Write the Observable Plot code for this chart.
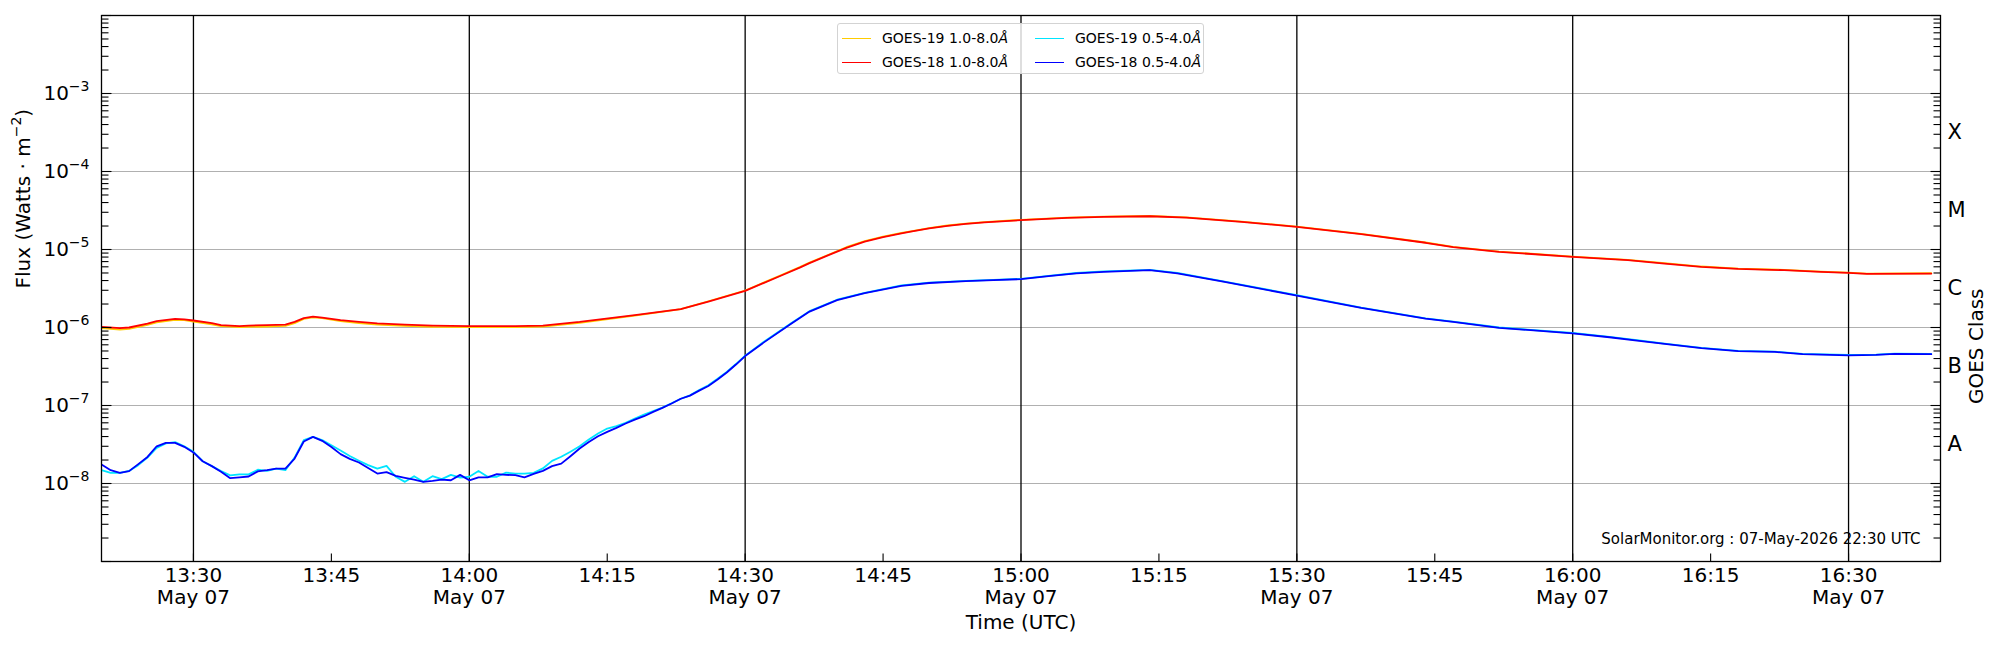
<!DOCTYPE html>
<html>
<head>
<meta charset="utf-8">
<script src="https://cdn.jsdelivr.net/npm/d3@7"></script>
<script src="https://cdn.jsdelivr.net/npm/@observablehq/plot@0.6"></script>
<style>
  html, body { margin: 0; padding: 0; background: white; }
  #wrap { position: relative; width: 2000px; height: 650px; font-family: "DejaVu Sans", sans-serif; }
  #legend { position: absolute; left: 837px; top: 23px; width: 367px; height: 51px; box-sizing: border-box;
            border: 1px solid #d3d3d3; border-radius: 3px; background: rgba(255,255,255,0.8);
            font-family: "DejaVu Sans", sans-serif; font-size: 14px; color: black; }
  .entry { position: absolute; height: 20px; display: flex; align-items: center; white-space: nowrap; }
  .swatch { width: 29px; height: 0; border-top: 1.5px solid; margin-right: 11px; }
</style>
</head>
<body>
<div id="wrap"></div>
<script>
// ---- Data ----
const startUTC = Date.UTC(2026, 4, 7, 13, 20);   // 07-May-2026 13:20 UTC
const endUTC   = Date.UTC(2026, 4, 7, 16, 40);

// 1.0-8.0 Å channel: minutes after 13:20
const longMinutes = [0, 2, 3, 5, 6, 8, 9, 10, 12, 13, 15, 16, 18, 20, 21, 22, 23, 24, 26, 28, 30, 33, 36, 40, 45,
  48, 52, 58, 63, 66, 70, 74, 76, 77, 79, 81, 83, 85, 87, 88, 90, 92, 94, 96, 100, 105, 109, 114, 118, 124, 130,
  137, 144, 147, 152, 160, 166, 170, 174, 178, 183, 187, 190, 192, 199];
const goes18Long = [1.02e-6, 0.98e-6, 1.00e-6, 1.125e-6, 1.21e-6, 1.29e-6, 1.27e-6, 1.23e-6, 1.14e-6, 1.07e-6,
  1.04e-6, 1.06e-6, 1.07e-6, 1.09e-6, 1.18e-6, 1.32e-6, 1.38e-6, 1.34e-6, 1.24e-6, 1.18e-6, 1.13e-6, 1.09e-6,
  1.06e-6, 1.04e-6, 1.04e-6, 1.06e-6, 1.18e-6, 1.44e-6, 1.72e-6, 2.15e-6, 2.95e-6, 4.68e-6, 5.9e-6, 6.7e-6,
  8.4e-6, 1.05e-5, 1.26e-5, 1.44e-5, 1.61e-5, 1.69e-5, 1.86e-5, 2.01e-5, 2.13e-5, 2.23e-5, 2.38e-5, 2.55e-5,
  2.62e-5, 2.67e-5, 2.56e-5, 2.26e-5, 1.95e-5, 1.57e-5, 1.22e-5, 1.07e-5, 9.34e-6, 8.05e-6, 7.3e-6, 6.61e-6,
  6.0e-6, 5.65e-6, 5.43e-6, 5.17e-6, 5.02e-6, 4.87e-6, 4.92e-6];
const goes19Long = [0.98e-6, 0.94e-6, 0.96e-6, 1.08e-6, 1.16e-6, 1.25e-6, 1.24e-6, 1.19e-6, 1.10e-6, 1.04e-6,
  1.01e-6, 1.02e-6, 1.03e-6, 1.05e-6, 1.14e-6, 1.29e-6, 1.35e-6, 1.32e-6, 1.21e-6, 1.14e-6, 1.09e-6, 1.05e-6,
  1.02e-6, 1.01e-6, 1.01e-6, 1.03e-6, 1.15e-6, 1.42e-6, 1.72e-6, 2.17e-6, 2.98e-6, 4.75e-6, 6.0e-6, 6.8e-6,
  8.5e-6, 1.07e-5, 1.28e-5, 1.46e-5, 1.63e-5, 1.71e-5, 1.88e-5, 2.03e-5, 2.15e-5, 2.25e-5, 2.40e-5, 2.57e-5,
  2.64e-5, 2.69e-5, 2.58e-5, 2.28e-5, 1.97e-5, 1.59e-5, 1.23e-5, 1.08e-5, 9.42e-6, 8.12e-6, 7.36e-6, 6.67e-6,
  6.05e-6, 5.70e-6, 5.48e-6, 5.21e-6, 5.06e-6, 4.91e-6, 4.96e-6];

// 0.5-4.0 Å channel: minutes after 13:20
const shortMinutes = [0, 1, 2, 3, 4, 5, 6, 7, 8, 9, 10, 11, 12, 13, 14, 15, 16, 17, 18, 19, 20, 21, 22, 23, 24,
  25, 26, 27, 28, 29, 30, 31, 32, 33, 34, 35, 36, 37, 38, 39, 40, 41, 42, 43, 44, 45, 46, 47, 48, 49, 50, 51,
  52, 53, 54, 55, 56, 57, 58, 59, 60, 61, 62, 63, 64, 65, 66, 67, 68, 69, 70, 72, 75, 77, 80, 83, 87, 90, 94, 97,
  100, 103, 106, 109, 114, 117, 122, 130, 137, 144, 147, 152, 160, 164, 167, 170, 174, 178, 182, 185, 190, 193,
  195, 199];
const goes18Short = [1.75e-8, 1.48e-8, 1.37e-8, 1.44e-8, 1.77e-8, 2.19e-8, 3.0e-8, 3.32e-8, 3.32e-8, 2.95e-8,
  2.5e-8, 1.93e-8, 1.67e-8, 1.41e-8, 1.17e-8, 1.2e-8, 1.23e-8, 1.43e-8, 1.48e-8, 1.55e-8, 1.55e-8, 2.09e-8,
  3.46e-8, 3.96e-8, 3.52e-8, 2.94e-8, 2.38e-8, 2.07e-8, 1.86e-8, 1.58e-8, 1.34e-8, 1.40e-8, 1.25e-8, 1.18e-8,
  1.12e-8, 1.05e-8, 1.08e-8, 1.12e-8, 1.10e-8, 1.29e-8, 1.10e-8, 1.2e-8, 1.2e-8, 1.32e-8, 1.29e-8, 1.28e-8,
  1.2e-8, 1.33e-8, 1.45e-8, 1.67e-8, 1.80e-8, 2.24e-8, 2.81e-8, 3.41e-8, 4.03e-8, 4.59e-8, 5.16e-8, 5.87e-8,
  6.6e-8, 7.29e-8, 8.29e-8, 9.33e-8, 1.06e-7, 1.22e-7, 1.34e-7, 1.55e-7, 1.78e-7, 2.15e-7, 2.65e-7, 3.35e-7,
  4.3e-7, 6.4e-7, 1.12e-6, 1.6e-6, 2.24e-6, 2.75e-6, 3.42e-6, 3.72e-6, 3.93e-6, 4.04e-6, 4.17e-6, 4.55e-6,
  4.95e-6, 5.18e-6, 5.43e-6, 4.95e-6, 3.87e-6, 2.57e-6, 1.78e-6, 1.30e-6, 1.18e-6, 9.9e-7, 8.4e-7, 7.5e-7,
  6.8e-7, 6.15e-7, 5.43e-7, 4.98e-7, 4.86e-7, 4.55e-7, 4.38e-7, 4.45e-7, 4.59e-7, 4.55e-7];
const goes19Short = [1.48e-8, 1.37e-8, 1.37e-8, 1.45e-8, 1.72e-8, 2.15e-8, 2.86e-8, 3.27e-8, 3.4e-8, 3.0e-8,
  2.55e-8, 1.93e-8, 1.67e-8, 1.44e-8, 1.27e-8, 1.31e-8, 1.31e-8, 1.5e-8, 1.45e-8, 1.55e-8, 1.48e-8, 2.15e-8,
  3.6e-8, 3.96e-8, 3.6e-8, 3.1e-8, 2.65e-8, 2.25e-8, 1.96e-8, 1.72e-8, 1.55e-8, 1.68e-8, 1.22e-8, 1.05e-8,
  1.24e-8, 1.05e-8, 1.24e-8, 1.14e-8, 1.29e-8, 1.19e-8, 1.22e-8, 1.45e-8, 1.22e-8, 1.22e-8, 1.38e-8, 1.34e-8,
  1.34e-8, 1.37e-8, 1.56e-8, 1.95e-8, 2.2e-8, 2.55e-8, 3.0e-8, 3.66e-8, 4.37e-8, 5.07e-8, 5.43e-8, 6.0e-8,
  6.8e-8, 7.65e-8, 8.5e-8, 9.4e-8, 1.07e-7, 1.22e-7, 1.35e-7, 1.58e-7, 1.82e-7, 2.2e-7, 2.7e-7, 3.4e-7,
  4.35e-7, 6.5e-7, 1.13e-6, 1.62e-6, 2.27e-6, 2.78e-6, 3.46e-6, 3.76e-6, 3.97e-6, 4.08e-6, 4.21e-6, 4.6e-6,
  5.0e-6, 5.23e-6, 5.48e-6, 5.0e-6, 3.91e-6, 2.6e-6, 1.8e-6, 1.31e-6, 1.19e-6, 1.0e-6, 8.5e-7, 7.58e-7,
  6.87e-7, 6.2e-7, 5.48e-7, 5.03e-7, 4.9e-7, 4.6e-7, 4.45e-7, 4.5e-7, 4.62e-7, 4.6e-7];

const seriesNames  = ["GOES-19 1.0-8.0", "GOES-18 1.0-8.0", "GOES-19 0.5-4.0", "GOES-18 0.5-4.0"];
const seriesColors = ["#ffcc00", "#ff0000", "#00e5ff", "#0000ff"];

const classLetters = ["A", "B", "C", "M", "X"];
const classExponents = [-7.5, -6.5, -5.5, -4.5, -3.5];
const labelDecades = [-8, -7, -6, -5, -4, -3];
const tickDecades = [-9, -8, -7, -6, -5, -4, -3, -2];
const minorMultipliers = [2, 3, 4, 5, 6, 7, 8, 9];
const xTickMinutes = [10, 25, 40, 55, 70, 85, 100, 115, 130, 145, 160, 175, 190];   // 13:30 ... 16:30 every 15'
const halfHourMinutes = [10, 40, 70, 100, 130, 160, 190];                           // 13:30 ... 16:30 every 30'
const footerText = "SolarMonitor.org : 07-May-2026 22:30 UTC";

// ---- Build tables ----
const toDate = m => new Date(startUTC + m * 60000);
const longData = [goes19Long, goes18Long].map(vals => longMinutes.map((m, i) => ({t: toDate(m), v: vals[i]})));
const shortData = [goes19Short, goes18Short].map(vals => shortMinutes.map((m, i) => ({t: toDate(m), v: vals[i]})));
const seriesData = [longData[0], longData[1], shortData[0], shortData[1]];

const majorTicks = tickDecades.map(e => Math.pow(10, e));
const minorTicks = tickDecades.slice(0, -1).flatMap(e => minorMultipliers.map(k => k * Math.pow(10, e)));
const labelTicks = labelDecades.map(e => Math.pow(10, e));
const classTicks = classExponents.map((e, i) => ({v: Math.pow(10, e), label: classLetters[i]}));
const xTicks = xTickMinutes.map(toDate);
const halfHours = halfHourMinutes.map(toDate);

const sup = {"-": "\u207B", "0": "\u2070", "1": "\u00B9", "2": "\u00B2", "3": "\u00B3", "4": "\u2074",
             "5": "\u2075", "6": "\u2076", "7": "\u2077", "8": "\u2078", "9": "\u2079"};
const unsup = Object.fromEntries(Object.entries(sup).map(([k, v]) => [v, k === "-" ? "\u2212" : k]));
const powFmt = d => "10" + String(Math.round(Math.log10(d))).split("").map(c => sup[c]).join("");
const pad = n => String(n).padStart(2, "0");
const timeFmt = d => {
  const s = pad(d.getUTCHours()) + ":" + pad(d.getUTCMinutes());
  return d.getUTCMinutes() % 30 === 0 ? s + "\nMay 07" : s;
};

const tickStyle = {r: 0, stroke: "black", strokeWidth: 1.1, strokeLinecap: "butt", anchor: "start"};

const chart = Plot.plot({
  width: 2000,
  height: 650,
  marginLeft: 101,
  marginRight: 60,
  marginTop: 15,
  marginBottom: 89,
  style: {fontFamily: "DejaVu Sans", fontSize: "20px", background: "white", color: "black", overflow: "visible"},
  x: {type: "utc", domain: [new Date(startUTC), new Date(endUTC)], label: null},
  y: {type: "log", domain: [1e-9, 1e-2], label: null},
  marks: [
    Plot.ruleY(labelTicks, {stroke: "#b0b0b0", strokeWidth: 1.2}),
    Plot.ruleX(halfHours, {stroke: "black", strokeWidth: 1.3}),
    ...seriesData.map((data, i) => Plot.line(data, {x: "t", y: "v", stroke: seriesColors[i], strokeWidth: 1.8, clip: true})),
    Plot.frame({stroke: "black", strokeWidth: 1.3}),
    // inward tick marks
    Plot.vector(xTicks, {x: d => d, frameAnchor: "bottom", rotate: 0, length: 8, ...tickStyle}),
    Plot.vector(majorTicks, {y: d => d, frameAnchor: "left", rotate: 90, length: 10, ...tickStyle}),
    Plot.vector(minorTicks, {y: d => d, frameAnchor: "left", rotate: 90, length: 7, ...tickStyle}),
    Plot.vector(majorTicks, {y: d => d, frameAnchor: "right", rotate: -90, length: 10, ...tickStyle}),
    Plot.vector(minorTicks, {y: d => d, frameAnchor: "right", rotate: -90, length: 7, ...tickStyle}),
    // axes
    Plot.axisX(xTicks, {tickSize: 0, tickPadding: 5, tickFormat: timeFmt, fontSize: 20, lineHeight: 1.1, label: null}),
    Plot.axisY(labelTicks, {anchor: "left", tickSize: 0, tickPadding: 12, tickFormat: powFmt, fontSize: 20, label: null}),
    Plot.text(classTicks, {y: "v", text: "label", frameAnchor: "right", dx: 7, textAnchor: "start", fontSize: 21}),
    // axis titles and footer
    Plot.text(["Time (UTC)"], {text: d => d, frameAnchor: "bottom", dy: 67, fontSize: 20}),
    Plot.text(["Flux (Watts \u00B7 m\u207B\u00B2)"], {text: d => d, frameAnchor: "left", dx: -78, rotate: -90, fontSize: 20}),
    Plot.text(["GOES Class"], {text: d => d, frameAnchor: "right", dx: 36, rotate: -90, fontSize: 20}),
    Plot.text([footerText], {text: d => d, frameAnchor: "bottom-right", dx: -20, dy: -18, textAnchor: "end", fontSize: 15})
  ]
});

// render unicode superscripts as real raised, smaller text (like matplotlib mathtext)
const supRe = /[\u207B\u2070\u00B9\u00B2\u00B3\u2074-\u2079]+/g;
d3.select(chart).selectAll("text").each(function() {
  const el = this;
  if (el.querySelector("tspan")) return;
  const s = el.textContent;
  if (!supRe.test(s)) return;
  supRe.lastIndex = 0;
  const parts = [];
  let last = 0, m;
  while ((m = supRe.exec(s))) {
    if (m.index > last) parts.push({t: s.slice(last, m.index), sup: false});
    parts.push({t: m[0].split("").map(c => unsup[c]).join(""), sup: true});
    last = m.index + m[0].length;
  }
  if (last < s.length) parts.push({t: s.slice(last), sup: false});
  el.textContent = "";
  let raised = false;
  parts.forEach(p => {
    const ts = document.createElementNS("http://www.w3.org/2000/svg", "tspan");
    ts.textContent = p.t;
    if (p.sup) { ts.setAttribute("dy", "-9"); ts.setAttribute("font-size", "14"); raised = true; }
    else if (raised) { ts.setAttribute("dy", "9"); raised = false; }
    el.appendChild(ts);
  });
});

const wrap = document.getElementById("wrap");
wrap.appendChild(chart);

// legend (matplotlib style, two columns filled column-wise)
const legend = document.createElement("div");
legend.id = "legend";
const colX = [4, 197];
const rowY = [4, 28];
seriesNames.forEach((name, i) => {
  const e = document.createElement("div");
  e.className = "entry";
  e.style.left = colX[Math.floor(i / 2)] + "px";
  e.style.top = rowY[i % 2] + "px";
  const sw = document.createElement("span");
  sw.className = "swatch";
  sw.style.borderTopColor = seriesColors[i];
  const tx = document.createElement("span");
  tx.innerHTML = name + "<i>\u00C5</i>";
  e.appendChild(sw);
  e.appendChild(tx);
  legend.appendChild(e);
});
wrap.appendChild(legend);
</script>
</body>
</html>
